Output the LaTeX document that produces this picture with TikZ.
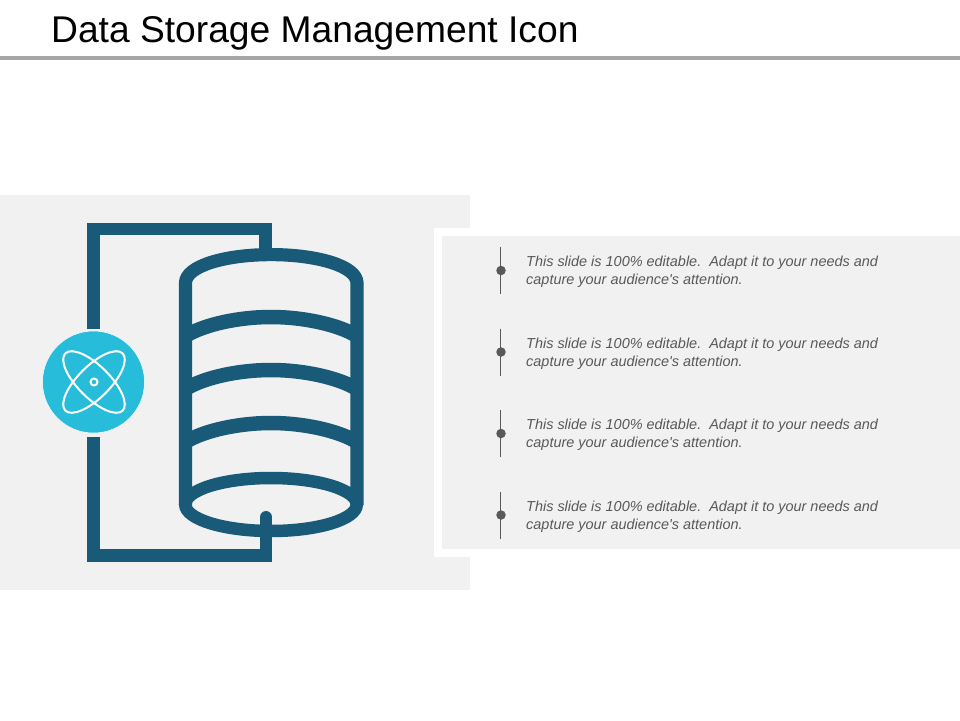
\documentclass[tikz,border=0pt]{standalone}
\usepackage{fontspec}
\setmainfont[Ligatures=TeXOff]{Liberation Sans}
\usetikzlibrary{calc}
\definecolor{pipecol}{HTML}{185A78}
\definecolor{atomcol}{HTML}{26BCDA}
\definecolor{panelcol}{HTML}{F1F1F1}
\definecolor{markcol}{HTML}{595959}
\tikzset{pipe/.style = {draw=pipecol,line width=12.5pt}}
\tikzset{ribbon/.style = {draw=pipecol,line width=14.5pt}}
\tikzset{orbit/.style = {draw=white,line width=2pt}}
\tikzset{note/.style = {anchor=west,align=left,inner sep=0pt,font=\fontsize{14.45}{18}\selectfont\itshape,text=markcol}}
\tikzset{dotmark/.style = {shape=circle,fill=markcol,inner sep=0pt,minimum size=9.5pt}}
\newcommand{\notetext}{This slide is 100\% editable.\ \ Adapt it to your needs and\\capture your audience's attention.}
\begin{document}
\begin{tikzpicture}[x=1pt,y=-1pt]
                    \useasboundingbox (0,0) rectangle (960,720);
                    \fill[white] (0,0) rectangle (960,720);

                    % title
                    \node[anchor=base west,inner sep=0pt,font=\fontsize{37.2}{40}\selectfont] (title) at (51,42) {Data Storage Management Icon};
                    \fill[black!35] (0,56) rectangle (960,60);

                    % panels
                    \fill[panelcol] (0,195) rectangle (470,590);
                    \fill[white] (434,228) rectangle (960,557);
                    \fill[panelcol] (442,236) rectangle (960,549);

                    % cylinder
                    \coordinate (TL) at (185.5,283);
                    \coordinate (TR) at (357,283);
                    \coordinate (BL) at (185.5,505);
                    \coordinate (BR) at (357,505);
                    \draw[pipe,line width=13.2pt,line join=round] (BL) -- (TL) .. controls (185.5,266) and (225,254.6) .. (271,254.6) .. controls (317,254.6) and (357,266) .. (TR) -- (BR);
                    \draw[ribbon] (185.5,336) .. controls (205,324) and (240,317) .. (271,317) .. controls (302,317) and (337,324) .. (357,336);
                    \draw[ribbon] (185.5,389) .. controls (205,377) and (240,370) .. (271,370) .. controls (302,370) and (337,377) .. (357,389);
                    \draw[ribbon] (185.5,442) .. controls (205,430) and (240,423) .. (271,423) .. controls (302,423) and (337,430) .. (357,442);
                    \draw[pipe] (271,504.5) ellipse (85.75pt and 26.5pt);

                    % atom
                    \node[shape=circle,fill=atomcol,draw=white,line width=0.5pt,minimum size=102pt,inner sep=0pt] (atom) at (93.5,382) {};
                    \draw[orbit,rotate around={45:(94,382)}] (94,382) ellipse (40.5pt and 16pt);
                    \draw[orbit,rotate around={-45:(94,382)}] (94,382) ellipse (40.5pt and 16pt);
                    \node[shape=circle,draw=white,line width=2pt,minimum size=7pt,inner sep=0pt] (core) at (94,382) {};

                    % wires
                    \coordinate (topend) at (265.5,250);
                    \coordinate (botend) at (266,517);
                    \draw[pipe] (93.5,328.5) -- (93.5,229) -- (265.5,229) -- (topend);
                    \draw[pipe] (93.5,437) -- (93.5,555.5) -- (266,555.5) -- (266,525);
                    \draw[pipe,line width=12pt,line cap=round] (266,530) -- (botend);

                    % notes
                    \foreach \name/\ypos in {a/270.5,b/352,c/433.5,d/515}
                    {
                        \node[dotmark] (dot\name) at (501,\ypos) {};
                        \coordinate (up\name) at (500.5,\ypos-23.5);
                        \coordinate (lo\name) at (500.5,\ypos+23.5);
                        \draw[markcol,line width=0.75pt] (up\name) -- (lo\name);
                        \node[note] (text\name) at (526,\ypos+1.5) {\notetext};
                    }
                \end{tikzpicture}
\end{document}
